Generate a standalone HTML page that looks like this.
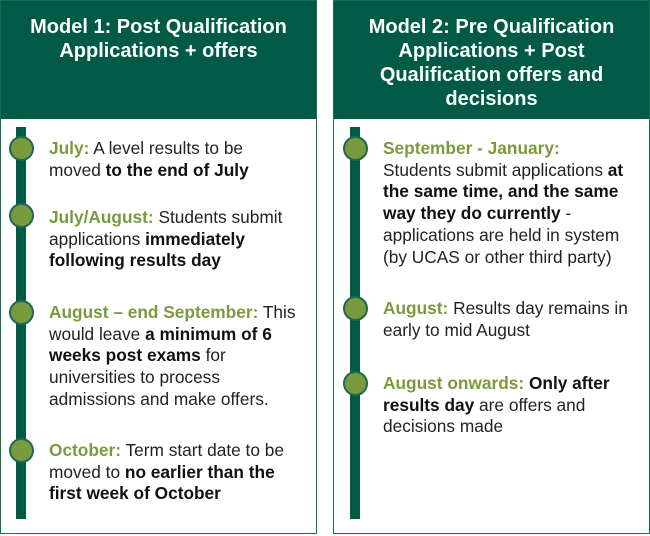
<!DOCTYPE html>
<html><head><style>
body{margin:0;width:650px;height:536px;background:#fff;position:relative;font-family:"Liberation Sans",Arial,sans-serif;overflow:hidden}
.panel{position:absolute;top:0;height:534px;border:1px solid #1d6b57;box-sizing:border-box;background:#fff}
.hd{position:absolute;left:0;top:0;right:0;height:118px;background:#005a45;color:#fff;font-weight:bold;font-size:20px;line-height:24px;text-align:center}
.bar{position:absolute;width:10px;background:#005a45;top:127px;height:392px}
.dot{position:absolute;width:25px;height:25px;border-radius:50%;background:#7a9a3f;border:2px solid #1e6a4e;box-sizing:border-box}
.t{position:absolute;font-size:17.3px;line-height:21.7px;color:#222;white-space:nowrap}
.g{color:#7a9a3f;font-weight:bold}
b{color:#111}
</style></head><body>
<div class="panel" style="left:0;width:317px">
 <div class="hd"><div style="padding-top:14px">Model 1: Post Qualification<br>Applications + offers</div></div>
</div>
<div class="panel" style="left:333px;width:317px">
 <div class="hd"><div style="padding-top:14px">Model 2: Pre Qualification<br>Applications + Post<br>Qualification offers and<br>decisions</div></div>
</div>
<div class="bar" style="left:16px"></div>
<div class="bar" style="left:350px"></div>
<div class="dot" style="left:9px;top:136px"></div>
<div class="dot" style="left:9px;top:203px"></div>
<div class="dot" style="left:9px;top:300px"></div>
<div class="dot" style="left:9px;top:438px"></div>
<div class="dot" style="left:343px;top:136px"></div>
<div class="dot" style="left:343px;top:296px"></div>
<div class="dot" style="left:343px;top:371px"></div>

<div class="t" style="left:49px;top:138px"><span class="g">July:</span> A level results to be<br>moved <b>to the end of July</b></div>
<div class="t" style="left:49px;top:207px"><span class="g">July/August:</span> Students submit<br>applications <b>immediately<br>following results day</b></div>
<div class="t" style="left:49px;top:302px"><span class="g">August – end September:</span> This<br>would leave <b>a minimum of 6<br>weeks post exams</b> for<br>universities to process<br>admissions and make offers.</div>
<div class="t" style="left:49px;top:440px"><span class="g">October:</span> Term start date to be<br>moved to <b>no earlier than the<br>first week of October</b></div>

<div class="t" style="left:383px;top:138px"><span class="g">September - January:</span><br>Students submit applications <b>at<br>the same time, and the same<br>way they do currently</b> -<br>applications are held in system<br>(by UCAS or other third party)</div>
<div class="t" style="left:383px;top:298px"><span class="g">August:</span> Results day remains in<br>early to mid August</div>
<div class="t" style="left:383px;top:373px"><span class="g">August onwards:</span> <b>Only after<br>results day</b> are offers and<br>decisions made</div>
</body></html>
